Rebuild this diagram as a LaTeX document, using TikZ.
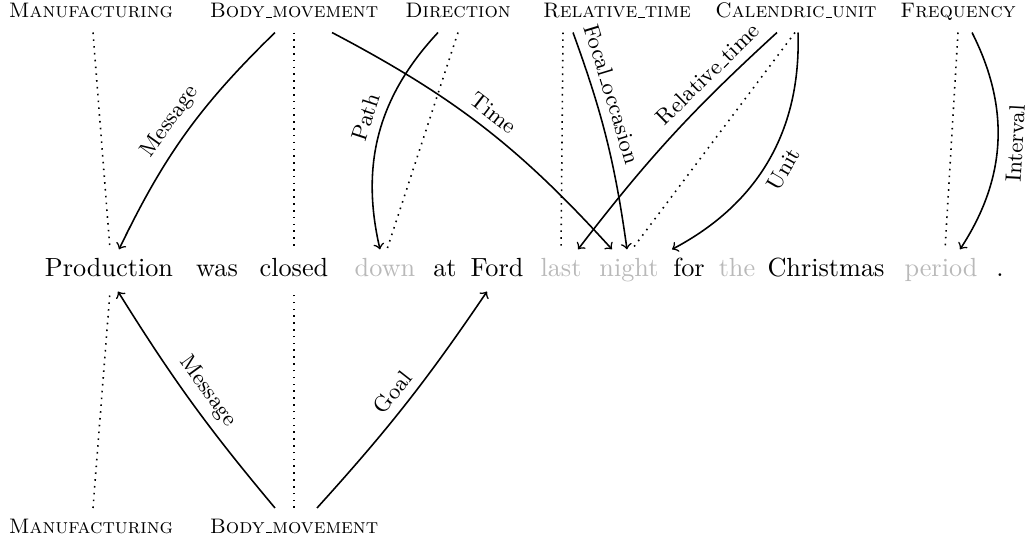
\documentclass[tikz,border=0pt]{standalone}
\usepackage{tikz}
\usetikzlibrary{positioning,calc}
\usepackage{xcolor}
\definecolor{TargetGray}{RGB}{185,185,185}
\newcommand{\usc}{\leavevmode\kern.06em\vbox{\hrule width.3em}}

\begin{document}
\begin{tikzpicture}[x=0.381pt, y=0.381pt,
  frame/.style={font=\footnotesize\scshape, text height=6pt, text depth=2pt, anchor=base},
  word/.style={text height=7pt, text depth=2pt, anchor=base},
  lu/.style={word, text=TargetGray},
  evoke/.style={semithick, dotted},
  role/.style={->, semithick},
  rolename/.style={font=\fontsize{8.5}{10}\selectfont, sloped}]
\useasboundingbox (0,0) rectangle (1027,541);
% frames above the sentence
\node[frame] (mfg) at (91,523) {Manufacturing};
\node[frame] (bm) at (294,523) {Body\usc movement};
\node[frame] (dir) at (458,523) {Direction};
\node[frame] (rt) at (617,523) {Relative\usc time};
\node[frame] (cu) at (796,523) {Calendric\usc unit};
\node[frame] (freq) at (958,523) {Frequency};
% the sentence
\node[word] (w1) at (109,264) {Production};
\node[word] (w2) at (217,264) {was};
\node[word] (w3) at (294,264) {closed};
\node[lu] (w4) at (385,264) {down};
\node[word] (w5) at (445,264) {at};
\node[word] (w6) at (497,264) {Ford};
\node[lu] (w7) at (561,264) {last};
\node[lu] (w8) at (629,264) {night};
\node[word] (w9) at (689,264) {for};
\node[lu] (w10) at (737,264) {the};
\node[word] (w11) at (826,264) {Christmas};
\node[lu] (w12) at (941,264) {period};
\node[word] (w13) at (1000,264) {.};
% frames below the sentence
\node[frame] (mfgb) at (91,8) {Manufacturing};
\node[frame] (bmb) at (294,8) {Body\usc movement};
% top annotation
\draw[evoke] ($(mfg.south)+(2,0)$) -- ($(w1.north)+(1,0)$);
\draw[role] ($(bm.south)+(-19,0)$) to[bend right=10] node[rolename, pos=0.5, above] {Message} ($(w1.north)+(10,0)$);
\draw[evoke] (bm.south) -- (w3.north);
\draw[role] ($(bm.south)+(38,0)$) to[bend left=10] node[rolename, pos=0.5, above] {Time} ($(w8.north)+(-17,0)$);
\draw[role] ($(dir.south)+(-20,0)$) to[bend right=28] node[rolename, pos=0.45, above] {Path} ($(w4.north)+(-5,0)$);
\draw[evoke] (dir.south) -- ($(w4.north)+(2,0)$);
\draw[evoke] ($(rt.south)+(-54,0)$) -- (w7.north);
\draw[role] ($(rt.south)+(-44,0)$) to[bend left=6] node[rolename, pos=0.3, above] {Focal\usc occasion} ($(w8.north)+(-2,0)$);
\draw[role] ($(cu.south)+(-19,0)$) to[bend right=5] node[rolename, pos=0.25, above] {Relative\usc time} ($(w7.north)+(17,0)$);
\draw[evoke] ($(cu.south)+(-1,0)$) -- ($(w8.north)+(3,0)$);
\draw[role] ($(cu.south)+(2,0)$) to[bend left=32] node[rolename, pos=0.5, below] {Unit} ($(w8.north)+(43,0)$);
\draw[evoke] (freq.south) -- ($(w12.north)+(4,0)$);
\draw[role] ($(freq.south)+(14,0)$) to[bend left=30] node[rolename, pos=0.5, below] {Interval} ($(w12.north)+(19,0)$);
% bottom annotation
\draw[evoke] ($(mfgb.north)+(2,0)$) -- ($(w1.south)+(1,0)$);
\draw[role] ($(bmb.north)+(-19,0)$) to[bend left=4] node[rolename, pos=0.5, above] {Message} ($(w1.south)+(9,0)$);
\draw[evoke] (bmb.north) -- (w3.south);
\draw[role] ($(bmb.north)+(23,0)$) to[bend right=4] node[rolename, pos=0.5, above] {Goal} ($(w6.south)+(-10,0)$);
\end{tikzpicture}
\end{document}
